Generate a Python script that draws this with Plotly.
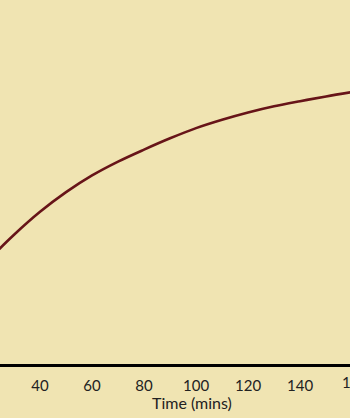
import plotly.graph_objects as go

time_mins = [20, 30, 40, 50, 60, 70, 80, 90, 100, 110, 120, 130, 140, 150, 160]
values = [28.5, 35.5, 41.8, 47.2, 51.8, 55.6, 58.9, 62.0, 64.8, 67.1, 69.1, 70.8, 72.2, 73.5, 74.7]
tick_vals = [40, 60, 80, 100, 120, 140]
tick_text = ["40", "60", "80", "100", "120", "140"]
edge_tick_text = "160"

bg = "#F0E4B2"
fig = go.Figure()
fig.add_trace(go.Scatter(
    x=time_mins, y=values, mode="lines",
    line=dict(color="#671418", width=2.6, shape="spline", smoothing=1.0),
    hoverinfo="skip", showlegend=False,
))
fig.update_layout(
    width=350, height=418,
    margin=dict(l=0, r=0, t=0, b=54),
    paper_bgcolor=bg, plot_bgcolor=bg,
    font=dict(family="Lato, 'Open Sans', sans-serif", color="#222222", size=15),
    xaxis=dict(
        range=[24.6, 159.2], tickvals=tick_vals, ticktext=tick_text,
        showgrid=False, zeroline=False, showline=True, linecolor="#000000",
        linewidth=3, ticks="", tickfont=dict(size=15, color="#222222"),
        ticklabelstandoff=6,
    ),
    yaxis=dict(range=[0, 100], visible=False, showgrid=False, zeroline=False),
    annotations=[
        dict(
            text="Time (mins)", x=192 / 350, xref="paper", y=-0.105, yref="paper",
            showarrow=False, font=dict(size=16, color="#222222"),
            xanchor="center", yanchor="middle",
        ),
        dict(
            text=edge_tick_text, x=355 / 350, xref="paper", y=-0.05, yref="paper",
            showarrow=False, font=dict(size=15, color="#222222"),
            xanchor="center", yanchor="middle",
        ),
    ],
)
fig.write_html("out.html")
